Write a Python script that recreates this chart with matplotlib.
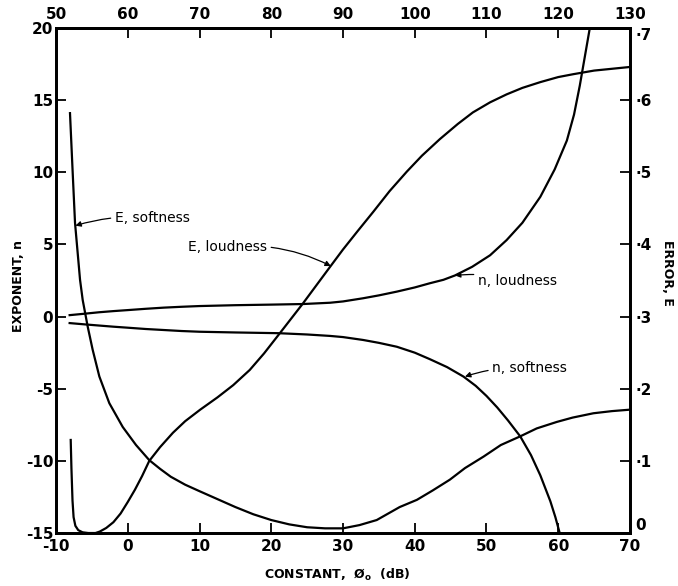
import numpy as np
from matplotlib import pyplot as plt
from matplotlib.ticker import MultipleLocator

plt.rcParams['font.family'] = ['DejaVu Sans']
plt.rcParams['font.weight'] = 'bold'
plt.rcParams['axes.unicode_minus'] = False

# exponent n (left axis) against constant phi_o (dB)
n_loud_x = [-8.1, -6, -4, -2, 0, 2.5, 5, 7.5, 10, 15, 20, 24.4, 28.2, 30, 32.8, 35, 37.5, 40,
            42.1, 44, 45.6, 48, 50.5, 52.8, 55, 57.5, 59.5, 61.2, 62.2, 63, 63.7, 64.4]
n_loud_y = [0.1, 0.2, 0.3, 0.38, 0.45, 0.54, 0.62, 0.68, 0.73, 0.79, 0.83, 0.87, 0.96, 1.05, 1.27,
            1.47, 1.73, 2.02, 2.31, 2.55, 2.85, 3.45, 4.25, 5.3, 6.5, 8.3, 10.2, 12.2, 14.0, 16.0, 18.0, 20.0]

n_soft_x = [-8.1, -6, -4, -2, 0, 2.5, 5, 7.5, 10, 15, 21, 25, 28.2, 30, 32.8, 35, 37.5, 40,
            42.1, 44.5, 46.8, 48.5, 50, 51.5, 53, 54.7, 56.2, 57.5, 58.9, 59.6, 60.2]
n_soft_y = [-0.45, -0.54, -0.62, -0.7, -0.77, -0.86, -0.93, -1.0, -1.05, -1.1, -1.15, -1.24, -1.34,
            -1.42, -1.62, -1.82, -2.09, -2.5, -2.95, -3.5, -4.16, -4.8, -5.5, -6.3, -7.2, -8.3,
            -9.6, -11.0, -12.8, -13.9, -15.0]

# error E (right axis)
e_loud_x = [-7.95, -7.85, -7.7, -7.55, -7.3, -6.9, -6.3, -5.5, -4.5, -3.9, -3.0, -2.0, -1.0, 0.0,
            1.0, 2.0, 3.0, 4.5, 6.3, 8.0, 10.1, 12.5, 14.7, 17.0, 19.0, 21.2, 24.4, 28.2, 30.0,
            32.0, 34.2, 36.5, 38.9, 41.0, 43.5, 46.0, 48.1, 50.5, 52.8, 55.0, 57.5, 60.0, 62.1,
            65.0, 70.0]
e_loud_y = [0.129, 0.09, 0.045, 0.022, 0.01, 0.004, 0.001, 0.0, 0.0, 0.002, 0.007, 0.015, 0.027,
            0.043, 0.06, 0.079, 0.1, 0.119, 0.139, 0.155, 0.171, 0.188, 0.205, 0.226, 0.249, 0.277,
            0.318, 0.369, 0.393, 0.418, 0.445, 0.474, 0.501, 0.523, 0.546, 0.567, 0.583, 0.597,
            0.608, 0.617, 0.625, 0.632, 0.636, 0.641, 0.646]

e_soft_x = [-8.05, -7.7, -7.35, -6.65, -6.28, -5.58, -4.89, -3.96, -2.57, -0.7, 1.15, 3.0, 4.5,
            6.0, 8.0, 10.0, 12.5, 15.0, 17.5, 20.0, 22.5, 25.0, 27.5, 30.0, 32.3, 34.7, 37.9, 40.3,
            42.5, 44.9, 47.0, 49.6, 52.0, 54.7, 57.0, 59.8, 62.0, 64.9, 67.5, 70.0]
e_soft_y = [0.582, 0.505, 0.43, 0.351, 0.323, 0.286, 0.254, 0.217, 0.18, 0.147, 0.122, 0.101,
            0.089, 0.078, 0.067, 0.058, 0.047, 0.036, 0.026, 0.018, 0.012, 0.008, 0.0065, 0.0065,
            0.011, 0.018, 0.036, 0.046, 0.059, 0.074, 0.09, 0.106, 0.122, 0.134, 0.145, 0.154,
            0.16, 0.166, 0.169, 0.171]

bottom_ticks = [-10, 0, 10, 20, 30, 40, 50, 60, 70]
top_ticks = [50, 60, 70, 80, 90, 100, 110, 120, 130]
err_ticks = [0, 0.1, 0.2, 0.3, 0.4, 0.5, 0.6, 0.7]
err_labels = ["0", "·1", "·2", "·3", "·4", "·5", "·6", "·7"]

fig = plt.figure(figsize=(6.78, 5.86), dpi=100)
ax = fig.add_axes([0.0826, 0.0904, 0.8466, 0.8618])
ax2 = ax.twinx()

lw = 1.6
ax.plot(n_loud_x, n_loud_y, color='black', lw=lw)
ax.plot(n_soft_x, n_soft_y, color='black', lw=lw)
ax2.plot(e_loud_x, e_loud_y, color='black', lw=lw)
ax2.plot(e_soft_x, e_soft_y, color='black', lw=lw)

ax.set_xlim(-10, 70)
ax.set_ylim(-15, 20)
ax2.set_ylim(0, 0.7)

ax.set_xticks(bottom_ticks)
ax.yaxis.set_major_locator(MultipleLocator(5))
ax2.set_yticks(err_ticks)
ax2.set_yticklabels(err_labels)

top = ax.secondary_xaxis('top', functions=(lambda v: v + 60, lambda v: v - 60))
top.set_xticks(top_ticks)

for a in (ax, ax2, top):
	a.tick_params(direction='in', length=7, width=1.3, labelsize=11, pad=4)
ax.tick_params(axis='y', pad=2)
for a in (ax, ax2):
	for sp in a.spines.values():
		sp.set_linewidth(2)
top.spines['top'].set_linewidth(2)

# corner labels sit inside the span, as in the original
fig.canvas.draw()
ax.get_yticklabels()[-1].set_va('top')
ax2.get_yticklabels()[-1].set_va('top')
ax2.get_yticklabels()[0].set_va('bottom')

ax.set_xlabel("CONSTANT,  Ø$_\\mathbf{o}$  (dB)", fontsize=9, fontweight='bold', va='center')
ax.xaxis.set_label_coords(0.49, -0.083)
ax.set_ylabel("EXPONENT, n", fontsize=9, fontweight='bold', va='center')
ax.yaxis.set_label_coords(-0.066, 0.49)
ax2.set_ylabel("ERROR, E", fontsize=9, fontweight='bold', rotation=270, va='center')
ax2.yaxis.set_label_coords(1.066, 0.515)

arrow = dict(arrowstyle='-|>', color='black', lw=0.9, mutation_scale=8, shrinkA=1, shrinkB=0)
ax.annotate("E, softness", xy=(-7.3, 6.3), xytext=(-1.8, 6.85), fontsize=10, fontweight='normal',
            va='center', ha='left', arrowprops=dict(arrow, connectionstyle='arc3,rad=0.1'))
ax.annotate("E, loudness", xy=(28.3, 3.5), xytext=(8.4, 4.82), fontsize=10, fontweight='normal',
            va='center', ha='left', arrowprops=dict(arrow, connectionstyle='arc3,rad=-0.15'))
ax.annotate("n, loudness", xy=(45.6, 2.85), xytext=(48.8, 2.47), fontsize=10, fontweight='normal',
            va='center', ha='left', arrowprops=dict(arrow, connectionstyle='arc3,rad=0.1'))
ax.annotate("n, softness", xy=(47.0, -4.16), xytext=(50.8, -3.56), fontsize=10, fontweight='normal',
            va='center', ha='left', arrowprops=dict(arrow, connectionstyle='arc3,rad=0.1'))

fig.savefig("out.png", dpi=100)
